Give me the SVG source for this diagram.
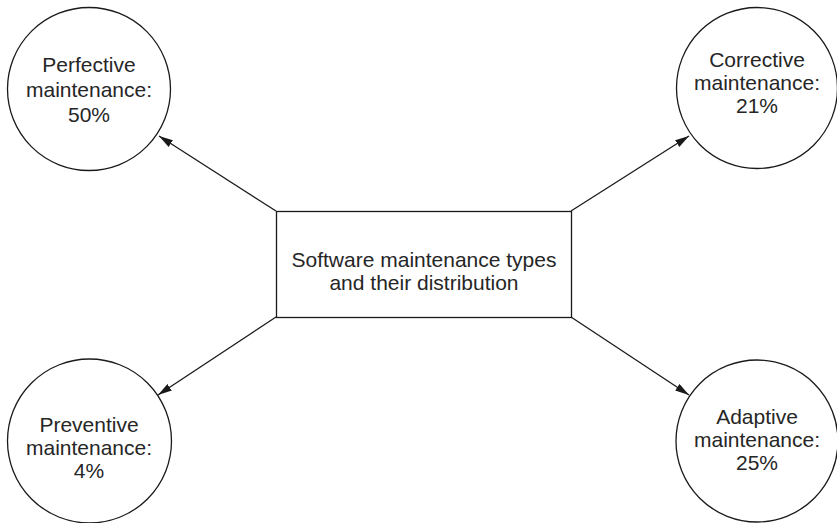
<svg xmlns="http://www.w3.org/2000/svg" width="837" height="523" viewBox="0 0 837 523">
<defs>
<marker id="arr" viewBox="0 0 14 8" refX="14" refY="4" markerWidth="14" markerHeight="8" markerUnits="userSpaceOnUse" orient="auto">
<path d="M0,0 L14,4 L0,8 z" fill="#1a1a1a"/>
</marker>
<style>
.n{fill:#fff;stroke:#1a1a1a;stroke-width:1.3}
.t{font-family:"Liberation Sans",Arial,sans-serif;font-size:21px;fill:#262626;text-anchor:middle}
.c{stroke:#1a1a1a;stroke-width:1.3;fill:none;marker-end:url(#arr)}
</style>
</defs>
<rect width="837" height="523" fill="#fff"/>
<g id="connectors">
<line class="c" x1="276" y1="211" x2="159" y2="136"/>
<line class="c" x1="571" y1="211" x2="689" y2="136"/>
<line class="c" x1="276" y1="317" x2="158" y2="395"/>
<line class="c" x1="571" y1="317" x2="689" y2="395"/>
</g>
<g id="center">
<rect class="n" x="276.5" y="211.5" width="295" height="106"/>
<text class="t" x="424" y="266.5">Software maintenance types</text>
<text class="t" x="424" y="290">and their distribution</text>
</g>
<g id="perfective">
<circle class="n" cx="89" cy="89" r="81.5"/>
<text class="t" x="89" y="72">Perfective</text>
<text class="t" x="89" y="97">maintenance:</text>
<text class="t" x="89" y="121.5">50%</text>
</g>
<g id="corrective">
<circle class="n" cx="757" cy="88" r="80.5"/>
<text class="t" x="757" y="67">Corrective</text>
<text class="t" x="757" y="90">maintenance:</text>
<text class="t" x="757" y="113">21%</text>
</g>
<g id="preventive">
<circle class="n" cx="89.5" cy="441" r="82"/>
<text class="t" x="89" y="432">Preventive</text>
<text class="t" x="89" y="455">maintenance:</text>
<text class="t" x="89" y="478">4%</text>
</g>
<g id="adaptive">
<circle class="n" cx="757" cy="441" r="81"/>
<text class="t" x="757" y="424">Adaptive</text>
<text class="t" x="757" y="447">maintenance:</text>
<text class="t" x="757" y="470">25%</text>
</g>
</svg>
